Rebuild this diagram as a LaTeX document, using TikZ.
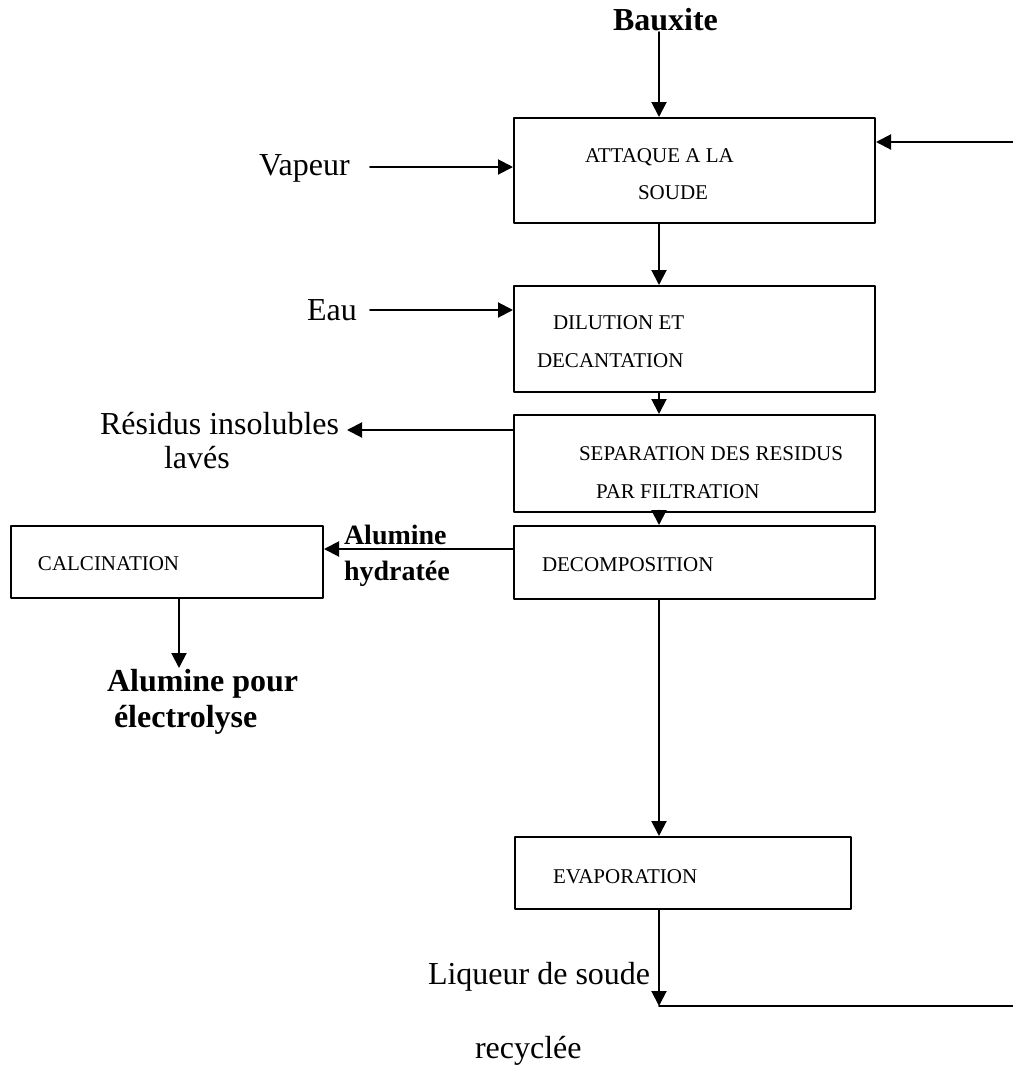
\documentclass[tikz,border=0pt]{standalone}
\usepackage{fontspec}
\setmainfont{Liberation Serif}
\usetikzlibrary{arrows.meta}

\begin{document}
\begin{tikzpicture}[line cap=round,line join=round,>={Triangle[length=7.5pt,width=7.5pt]},x=0.5pt,y=-0.5pt,line width=1pt,
  proc/.style={draw,rectangle,inner sep=0pt,minimum width=180.5pt},
  inbox/.style={inner sep=0pt,anchor=base west,font=\fontsize{10.5}{12}\selectfont},
  flow/.style={inner sep=0pt,anchor=base west,font=\fontsize{16}{19}\selectfont},
  flowb/.style={flow,font=\fontsize{16}{19}\selectfont\bfseries}]
\useasboundingbox (0,0) rectangle (1013,1067);
% process boxes
\node [proc,minimum height=52.5pt] (attaque) at (694.5,170.5) {};
\node [proc,minimum height=53pt] (dilution) at (694.5,339) {};
\node [proc,minimum height=48.5pt] (separation) at (694.5,463.5) {};
\node [proc,minimum height=36.5pt] (decomposition) at (694.5,562.5) {};
\node [proc,minimum width=156pt,minimum height=36pt] (calcination) at (167,562) {};
\node [proc,minimum width=168pt,minimum height=36pt] (evaporation) at (683,873) {};
% texts in the boxes
\node [inbox] (attA) at (584,162) {ATTAQUE A LA};
\node [inbox] (attB) at (637,199) {SOUDE};
\node [inbox] (dilA) at (552,329) {DILUTION ET};
\node [inbox] (dilB) at (536,367) {DECANTATION};
\node [inbox] (sepA) at (578,460) {SEPARATION DES RESIDUS};
\node [inbox] (sepB) at (595,498) {PAR FILTRATION};
\node [inbox] (decA) at (541,571) {DECOMPOSITION};
\node [inbox] (calA) at (37,570) {CALCINATION};
\node [inbox] (evaA) at (552,883) {EVAPORATION};
% inputs and outputs
\node [flowb] (bauxite) at (612,30) {Bauxite};
\node [flow] (vapeur) at (258,175) {Vapeur};
\node [flow] (eau) at (306,320) {Eau};
\node [flow] (residus) at (99,434) {Résidus insolubles};
\node [flow] (laves) at (163,468) {lavés};
\node [flowb,font=\fontsize{14}{17}\selectfont\bfseries] (alumine) at (343,544) {Alumine};
\node [flowb,font=\fontsize{14}{17}\selectfont\bfseries] (hydratee) at (343,580) {hydratée};
\node [flowb] (alupour) at (106,691) {Alumine pour};
\node [flowb] (electro) at (113,727) {électrolyse};
\node [flow] (liqueur) at (427,984) {Liqueur de soude};
\node [flow] (recyclee) at (474,1058) {recyclée};
% free ends
\coordinate (bauS) at (659,32);
\coordinate (vapS) at (370,167);
\coordinate (eauS) at (370,310);
\coordinate (retS) at (1013,142);
\coordinate (resE) at (347,430);
\coordinate (hydS) at (0,549);
\coordinate (elecE) at (179,668);
\coordinate (liqE) at (1013,1006);
% connectors
\draw [->] (bauS) -- (bauS |- attaque.north);
\draw [->] (vapS) -- (vapS -| attaque.west);
\draw [->] (retS) -- (retS -| attaque.east);
\draw [->] (bauS |- attaque.south) -- (bauS |- dilution.north);
\draw [->] (eauS) -- (eauS -| dilution.west);
\draw [->] (bauS |- dilution.south) -- (bauS |- separation.north);
\draw [->] (resE -| separation.west) -- (resE);
\draw [->] (bauS |- separation.south) -- (bauS |- decomposition.north);
\draw [->] (hydS -| decomposition.west) -- (hydS -| calcination.east);
\draw [->] (elecE |- calcination.south) -- (elecE);
\draw [->] (bauS |- decomposition.south) -- (bauS |- evaporation.north);
\draw [->] (bauS |- evaporation.south) -- (bauS |- liqE);
\draw (bauS |- liqE) -- (liqE);
\end{tikzpicture}
\end{document}
